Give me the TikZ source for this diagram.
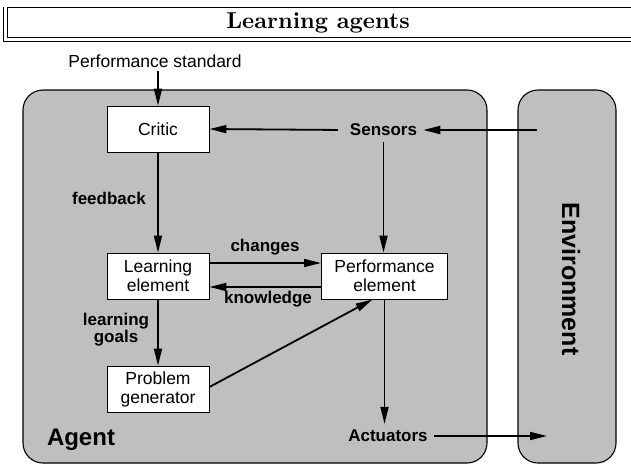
\documentclass[tikz,border=0pt]{standalone}
\usepackage{fontspec}
\newfontfamily\arialfont{Liberation Sans}
\usetikzlibrary{arrows.meta}
\definecolor{agentgray}{gray}{0.75}

\tikzset{
  blockbox/.style={draw, fill=white, line width=0.9pt, minimum width=102pt,
    minimum height=46pt, inner sep=0pt, align=center,
    font=\arialfont\fontsize{17.5}{19}\selectfont},
  boldlabel/.style={font=\arialfont\bfseries\fontsize{17}{18}\selectfont,
    inner sep=0pt, align=center},
  region/.style={draw, fill=agentgray, line width=1.1pt, rounded corners=20pt},
  flow/.style={line width=1.8pt, -{Triangle[length=17pt,width=8pt]}},
}

\begin{document}
\begin{tikzpicture}[x=1pt,y=-1pt]
  \useasboundingbox (0,0) rectangle (631,466);
  % title frame
  \draw[line width=1.4pt] (631,7.5) -- (7.5,7.5) -- (7.5,37.5) -- (631,37.5);
  \draw[line width=1.4pt] (3.3,7) -- (3.3,41.7) -- (631,41.7);
  \node[inner sep=0pt] (title) at (318,23) {\scalebox{2.3}{\bfseries Learning agents}};

  % agent and environment
  \draw[region] (23,90) rectangle (487,463);
  \draw[region] (518,90) rectangle (616,463);
  \node[font=\arialfont\bfseries\fontsize{25}{25}\selectfont, rotate=-90] (envlabel) at (571,279) {Environment};
  \node[font=\arialfont\bfseries\fontsize{24}{24}\selectfont, anchor=base] (agentlabel) at (81,445) {Agent};

  % boxes
  \node[blockbox] (critic) at (158,129) {Critic};
  \node[blockbox] (learn) at (158,276) {Learning\\element};
  \node[blockbox] (probgen) at (158,389) {Problem\\generator};
  \node[blockbox, minimum width=126pt] (perf) at (384.5,276) {Performance\\element};

  % labels
  \node[font=\arialfont\fontsize{17.5}{19}\selectfont] (perfstd) at (155,61) {Performance standard};
  \node[boldlabel, inner sep=6pt] (sensors) at (383.5,130) {Sensors};
  \node[boldlabel, inner sep=6pt] (act) at (388,436) {Actuators};
  \node[boldlabel, anchor=east] (feedback) at (146,198) {feedback};
  \node[boldlabel, anchor=base] (changes) at (265,251) {changes};
  \node[boldlabel, anchor=base] (knowledge) at (268,303) {knowledge};
  \node[boldlabel, font=\arialfont\bfseries\fontsize{17}{17}\selectfont] (goals) at (116,330) {learning\\goals};
  \coordinate (envin) at (537,130);
  \coordinate (envout) at (547,436);

  % connectors
  \draw[flow] (perfstd.south -| critic.north) -- (critic.north);
  \draw[flow] (envin) -- (sensors.east);
  \draw[flow, shorten <=6pt] (sensors.west) -- (critic.east);
  \draw[flow] (sensors.south) -- (sensors.south |- perf.north);
  \draw[flow] (critic.south) -- (learn.north);
  \draw[flow] ([yshift=13pt]learn.east) -- ([yshift=13pt]learn.east -| perf.west);
  \draw[flow] ([yshift=-11pt]perf.west) -- ([yshift=-11pt]perf.west -| learn.east);
  \draw[flow] (learn.south) -- (probgen.north);
  \draw[flow] ([yshift=2pt]probgen.east) -- ([xshift=-12pt]perf.south);
  \draw[flow] (perf.south) -- (perf.south |- act.north);
  \draw[flow] (act.east) -- (envout);
\end{tikzpicture}
\end{document}
